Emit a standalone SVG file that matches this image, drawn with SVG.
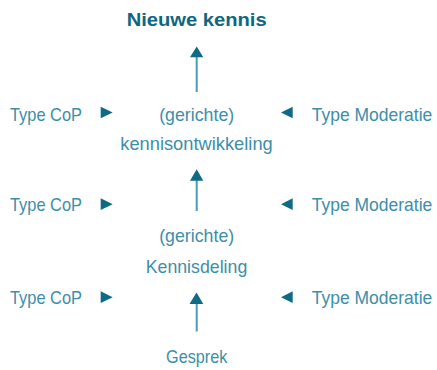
<svg xmlns="http://www.w3.org/2000/svg" width="437" height="370" viewBox="0 0 437 370">
<style>
.t{font-family:"Liberation Sans",Arial,sans-serif;font-size:19px;fill:#3d8ea8;}
.c{text-anchor:middle;}
.m{font-size:16px;}
.title{font-family:"Liberation Sans",Arial,sans-serif;font-size:19px;font-weight:bold;fill:#0d6783;text-anchor:middle;}
.shaft{stroke:#4a9bb4;stroke-width:2;fill:none;}
.head{fill:#0e6a86;}
.tri{fill:#0e6a86;}
</style>
<rect width="437" height="370" fill="#ffffff"/>
<g id="node-nieuwe-kennis"><text class="title" x="196.7" y="26" textLength="140" lengthAdjust="spacingAndGlyphs">Nieuwe kennis</text></g>
<g id="node-kennisontwikkeling">
<text class="t c" x="196.7" y="120.5" textLength="75" lengthAdjust="spacingAndGlyphs">(gerichte)</text>
<text class="t c" x="196.5" y="150" textLength="152.5" lengthAdjust="spacingAndGlyphs">kennisontwikkeling</text>
</g>
<g id="node-kennisdeling">
<text class="t c" x="196.7" y="242.3" textLength="75" lengthAdjust="spacingAndGlyphs">(gerichte)</text>
<text class="t c" x="196.5" y="273.3" textLength="101.6" lengthAdjust="spacingAndGlyphs">Kennisdeling</text>
</g>
<g id="node-gesprek"><text class="t c" x="196.7" y="363.3" textLength="61.3" lengthAdjust="spacingAndGlyphs">Gesprek</text></g>
<g id="node-cop-1"><text class="t" x="10" y="120.5" textLength="72" lengthAdjust="spacingAndGlyphs">Type CoP</text></g>
<g id="node-cop-2"><text class="t" x="10" y="211.3" textLength="72" lengthAdjust="spacingAndGlyphs">Type CoP</text></g>
<g id="node-cop-3"><text class="t" x="10" y="304" textLength="72" lengthAdjust="spacingAndGlyphs">Type CoP</text></g>
<g id="node-mod-1"><text class="t m" transform="translate(311.7,120.5) scale(1,1.18)" x="0" y="0" textLength="120.6" lengthAdjust="spacingAndGlyphs">Type Moderatie</text></g>
<g id="node-mod-2"><text class="t m" transform="translate(311.7,211.3) scale(1,1.18)" x="0" y="0" textLength="120.6" lengthAdjust="spacingAndGlyphs">Type Moderatie</text></g>
<g id="node-mod-3"><text class="t m" transform="translate(311.7,304) scale(1,1.18)" x="0" y="0" textLength="120.6" lengthAdjust="spacingAndGlyphs">Type Moderatie</text></g>
<g id="connectors">
<line class="shaft" x1="196.7" y1="56" x2="196.7" y2="92"/>
<polygon class="head" points="196.7,46.5 203.3,57.3 190,57.3"/>
<line class="shaft" x1="196.7" y1="180" x2="196.7" y2="211"/>
<polygon class="head" points="196.7,169.3 203.3,180.7 190,180.7"/>
<line class="shaft" x1="196.7" y1="303" x2="196.7" y2="331.5"/>
<polygon class="head" points="196.5,292.5 203.3,304 189.5,304"/>
<polygon class="tri" points="100.7,106.7 112.7,112.5 100.7,118.3"/>
<polygon class="tri" points="100.7,198.3 112.7,204.2 100.7,210"/>
<polygon class="tri" points="100.7,291.3 112.7,297.2 100.7,303.1"/>
<polygon class="tri" points="292.7,106.7 281,112.5 292.7,118.3"/>
<polygon class="tri" points="292.7,198.3 281,204.2 292.7,210"/>
<polygon class="tri" points="292.7,291.3 281,297.2 292.7,303.1"/>
</g>
</svg>
